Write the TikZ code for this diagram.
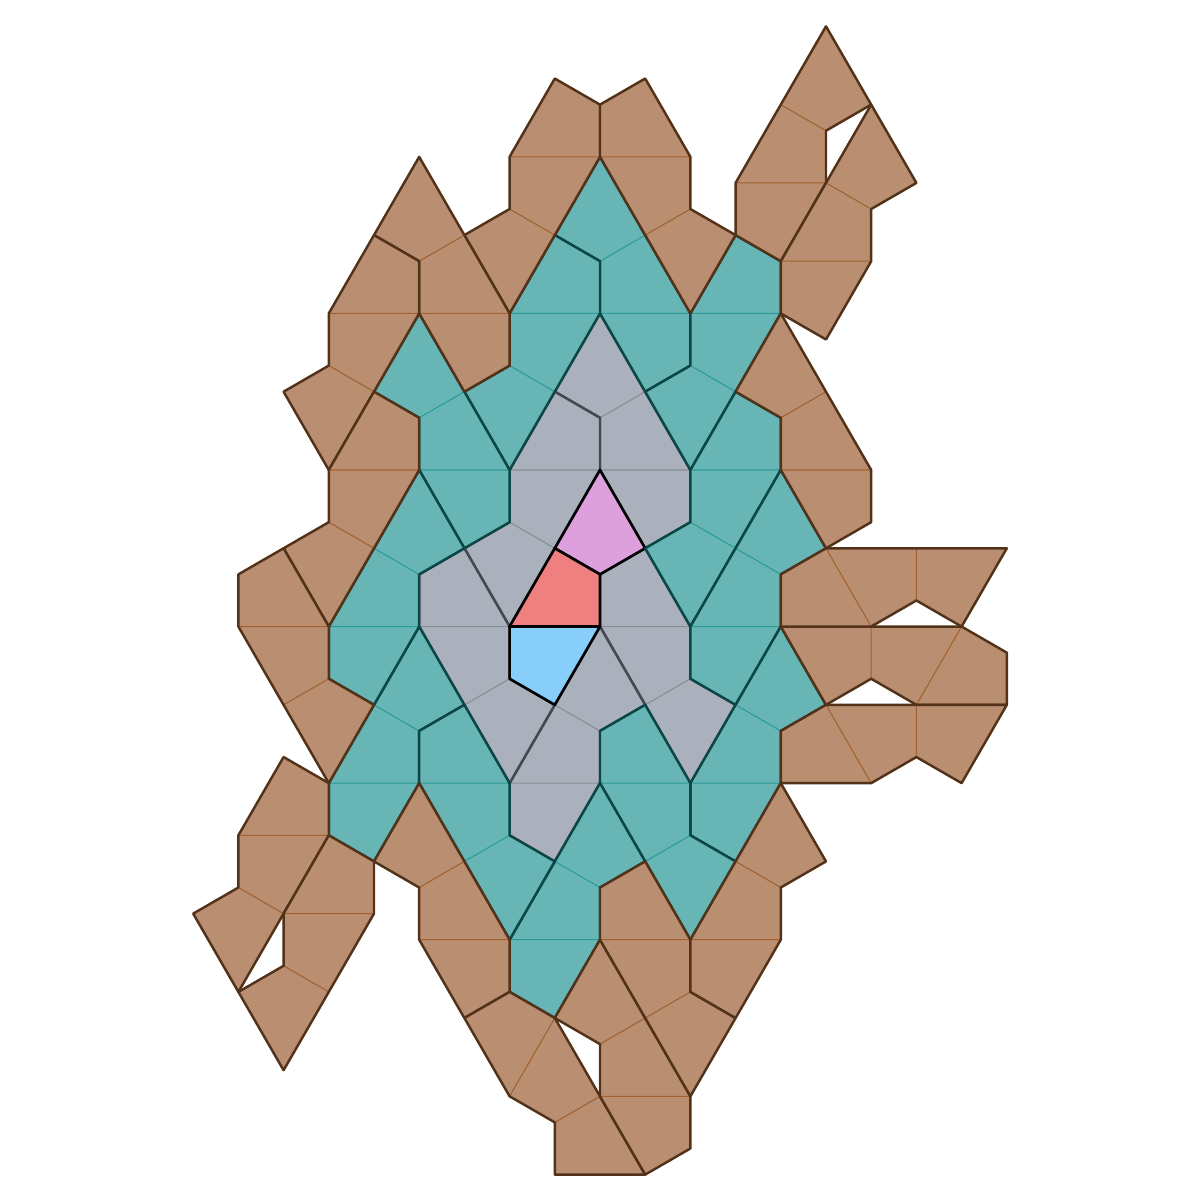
\documentclass[tikz,border=0pt]{standalone}
\usepackage{xcolor}
\usepackage{tikz}
\usetikzlibrary{calc}

\definecolor{gryfill}{HTML}{AAB1BC}
\definecolor{gryline}{HTML}{434853}
\definecolor{grythin}{HTML}{878D97}
\definecolor{tealfill}{HTML}{67B5B5}
\definecolor{tealline}{HTML}{0C4747}
\definecolor{tealthin}{HTML}{2A9C97}
\definecolor{brnfill}{HTML}{BA8F71}
\definecolor{brnline}{HTML}{53321A}
\definecolor{brnthin}{HTML}{A0612F}
\definecolor{kitepink}{HTML}{DDA0DD}
\definecolor{kitered}{HTML}{F08080}
\definecolor{kiteblue}{HTML}{87CEFA}

% three kites: middle kite A,B,D,C (B on the shared long edge, C on the shared short edge)
\newcommand{\tritile}[5]{%
  \coordinate (mA) at (#1); \coordinate (mB) at (#2);
  \coordinate (mD) at (#3); \coordinate (mC) at (#4);
  \coordinate (tD) at ($(mA)+(mB)-(mD)$);
  \coordinate (tC) at ($(mA)+(mB)-(mC)$);
  \coordinate (pA) at ($(mC)!(mA)!(mD)$);
  \coordinate (pB) at ($(mC)!(mB)!(mD)$);
  \coordinate (sA) at ($(mA)!2!(pA)$);
  \coordinate (sB) at ($(mB)!2!(pB)$);
  \fill[#5 fill] (mA) -- (tD) -- (tC) -- (mB) -- (mD) -- (sB) -- (sA) -- (mC) -- cycle;
  \draw[#5 thin] (mA) -- (mB) (mC) -- (mD);
  \draw[#5 edge] (mA) -- (tD) -- (tC) -- (mB) -- (mD) -- (sB) -- (sA) -- (mC) -- cycle;
}

\begin{document}
\begin{tikzpicture}[x=0.452cm, y=-0.26096cm, line join=round]

\tikzstyle{lvl1 fill}=[fill=gryfill]
\tikzstyle{lvl1 thin}=[draw=grythin, line width=0.3pt]
\tikzstyle{lvl1 edge}=[draw=gryline, line width=0.7pt]
\tikzstyle{lvl2 fill}=[fill=tealfill]
\tikzstyle{lvl2 thin}=[draw=tealthin, line width=0.3pt]
\tikzstyle{lvl2 edge}=[draw=tealline, line width=0.7pt]
\tikzstyle{lvl3 fill}=[fill=brnfill]
\tikzstyle{lvl3 thin}=[draw=brnthin, line width=0.3pt]
\tikzstyle{lvl3 edge}=[draw=brnline, line width=0.7pt]
\tikzstyle{core}=[draw=black, line width=0.75pt]

\useasboundingbox (-13.274,-18.01) rectangle (13.274,27.97);

% grey ring
\tritile{2,0}{0,0}{0,-2}{1,-3}{lvl1}
\tritile{0,0}{-2,0}{-2,2}{-1,3}{lvl1}
\tritile{0,6}{2,6}{2,8}{1,9}{lvl1}
\tritile{-2,12}{0,12}{0,10}{-1,9}{lvl1}
\tritile{-4,6}{-2,6}{-2,8}{-3,9}{lvl1}

% centre
\filldraw[core, fill=kitepink] (0,0) -- (-1,3) -- (0,4) -- (1,3) -- cycle;
\filldraw[core, fill=kitered] (-2,6) -- (-1,3) -- (0,4) -- (0,6) -- cycle;
\filldraw[core, fill=kiteblue] (-2,6) -- (0,6) -- (-1,9) -- (-2,8) -- cycle;

% teal ring
\tritile{2,-6}{0,-6}{0,-8}{1,-9}{lvl2}
\tritile{0,-6}{-2,-6}{-2,-4}{-1,-3}{lvl2}
\tritile{4,-6}{2,-6}{2,-4}{3,-3}{lvl2}
\tritile{4,0}{2,0}{2,2}{3,3}{lvl2}
\tritile{2,6}{4,6}{4,4}{3,3}{lvl2}
\tritile{2,12}{4,12}{4,10}{3,9}{lvl2}
\tritile{0,12}{2,12}{2,14}{1,15}{lvl2}
\tritile{-2,18}{0,18}{0,16}{-1,15}{lvl2}
\tritile{-6,12}{-4,12}{-4,10}{-5,9}{lvl2}
\tritile{-4,12}{-2,12}{-2,14}{-3,15}{lvl2}
\tritile{-2,0}{-4,0}{-4,-2}{-3,-3}{lvl2}
\tritile{-6,6}{-4,6}{-4,4}{-5,3}{lvl2}

% brown ring
\tritile{0,-12}{-2,-12}{-2,-10}{-1,-9}{lvl3}
\tritile{0,-12}{2,-12}{2,-10}{1,-9}{lvl3}
\tritile{-2,-6}{-4,-6}{-4,-8}{-3,-9}{lvl3}
\tritile{-4,-6}{-6,-6}{-6,-4}{-5,-3}{lvl3}
\tritile{-4,0}{-6,0}{-6,2}{-5,3}{lvl3}
\tritile{-8,6}{-6,6}{-6,8}{-7,9}{lvl3}
\tritile{-6,14}{-8,14}{-8,16}{-7,17}{lvl3}
\tritile{-5,17}{-7,17}{-7,19}{-6,20}{lvl3}
\tritile{-2,18}{-4,18}{-4,16}{-3,15}{lvl3}
\tritile{-1,21}{-2,24}{-1,25}{0,24}{lvl3}
\tritile{2,24}{0,24}{0,22}{1,21}{lvl3}
\tritile{0,18}{2,18}{2,20}{1,21}{lvl3}
\tritile{2,18}{4,18}{4,16}{3,15}{lvl3}
\tritile{8,6}{7,9}{6,8}{6,6}{lvl3}
\tritile{5,9}{6,12}{7,11}{7,9}{lvl3}
\tritile{6,0}{4,0}{4,-2}{5,-3}{lvl3}
\tritile{5,3}{6,6}{7,5}{7,3}{lvl3}
\tritile{3,-11}{5,-11}{5,-13}{4,-14}{lvl3}
\tritile{4,-8}{6,-8}{6,-10}{5,-11}{lvl3}

\end{tikzpicture}
\end{document}
